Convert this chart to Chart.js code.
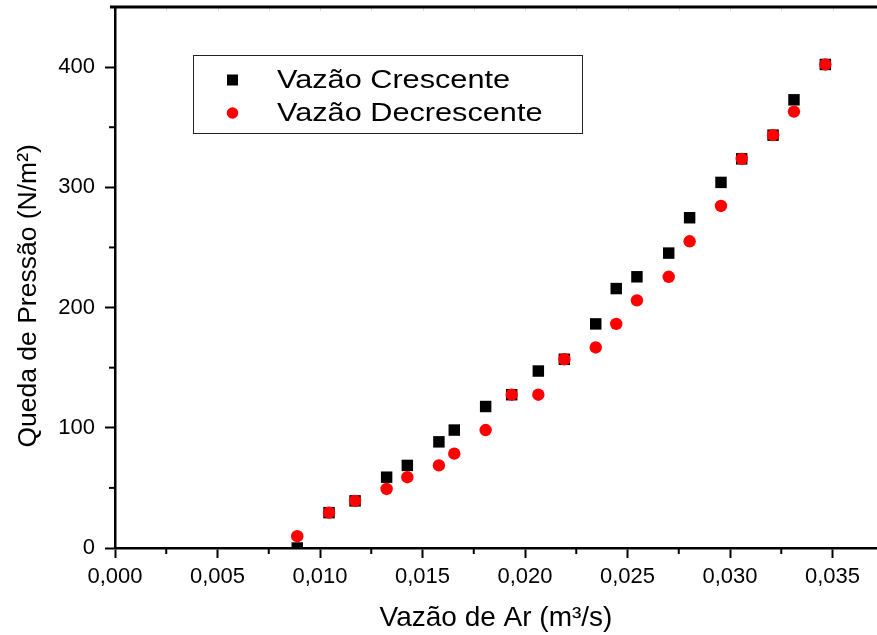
<!DOCTYPE html>
<html>
<head>
<meta charset="utf-8">
<script src="https://cdn.jsdelivr.net/npm/chart.js@4/dist/chart.umd.min.js"></script>
<style>
  html, body { margin: 0; padding: 0; background: #fff; }
  #chart { display: block; }
</style>
</head>
<body>
<canvas id="chart" width="877" height="635"></canvas>
<script>
// vazão de ar (m3/s) – mesmas posições para as duas séries
const flowRate = [0.00889, 0.01044, 0.01171, 0.01325, 0.01426, 0.01580, 0.01655, 0.01808, 0.01935, 0.02065, 0.02192,
                  0.02345, 0.02445, 0.02546, 0.02701, 0.02803, 0.02956, 0.03057, 0.03210, 0.03312, 0.03465];
const dropRising  = [0, 29.4, 39.2, 58.9, 68.7, 88.3, 98.1, 117.7, 127.5, 147.2, 157.0,
                     186.4, 215.8, 225.6, 245.3, 274.7, 304.1, 323.7, 343.4, 372.8, 402.2];
const dropFalling = [9.8, 29.4, 39.2, 49.1, 58.9, 68.7, 78.5, 98.1, 127.5, 127.5, 157.0,
                     166.8, 186.4, 206.0, 225.6, 255.1, 284.5, 323.7, 343.4, 363.0, 402.2];
const seriesNames = ['Vazão Crescente', 'Vazão Decrescente'];
const xTitle = 'Vazão de Ar (m³/s)';
const yTitle = 'Queda de Pressão (N/m²)';

const FONT = "'Liberation Sans', Arial, sans-serif";

const toPoints = ys => ys.map((y, i) => ({ x: flowRate[i], y }));

// sem margens extras das escalas
const noPad = s => { s.paddingTop = 0; s.paddingBottom = 0; s.paddingLeft = 0; s.paddingRight = 0; };

// ticks menores, linha superior e legenda
const framePlugin = {
  id: 'frame',
  afterDraw(chart) {
    const { ctx, chartArea: a, scales } = chart;
    ctx.save();
    ctx.strokeStyle = '#000';
    ctx.lineWidth = 2;
    // minor ticks x
    const xs = scales.x;
    for (let v = 0.0025; v < xs.max; v += 0.005) {
      const px = xs.getPixelForValue(v);
      ctx.beginPath(); ctx.moveTo(px, a.bottom); ctx.lineTo(px, a.bottom + 6); ctx.stroke();
    }
    // minor ticks y
    const ys = scales.y;
    for (let v = 50; v < ys.max; v += 100) {
      const py = ys.getPixelForValue(v);
      ctx.beginPath(); ctx.moveTo(a.left, py); ctx.lineTo(a.left - 6, py); ctx.stroke();
    }
    // faint ticks on the top line
    ctx.strokeStyle = '#d8d8d8';
    ctx.lineWidth = 1;
    for (let v = 0.0025; v < xs.max; v += 0.0025) {
      const px = Math.round(xs.getPixelForValue(v)) + 0.5;
      ctx.beginPath(); ctx.moveTo(px, a.top); ctx.lineTo(px, a.top + 4); ctx.stroke();
    }
    // top line
    ctx.strokeStyle = '#000';
    ctx.lineWidth = 3;
    ctx.beginPath(); ctx.moveTo(a.left - 5, a.top); ctx.lineTo(a.right, a.top); ctx.stroke();

    // legend
    const lx = 193, ly = 55, lw = 389, lh = 78;
    ctx.lineWidth = 1;
    ctx.strokeStyle = '#222';
    ctx.strokeRect(lx + 0.5, ly + 0.5, lw, lh);
    const rows = [ly + 25, ly + 58];
    ctx.fillStyle = '#000';
    ctx.fillRect(lx + 34, rows[0] - 5.5, 11, 11);
    ctx.fillStyle = '#ff0000';
    ctx.beginPath(); ctx.arc(lx + 39.5, rows[1], 5.8, 0, Math.PI * 2); ctx.fill();
    ctx.fillStyle = '#000';
    ctx.font = '26px ' + FONT;
    ctx.textBaseline = 'middle';
    rows.forEach((ry, i) => {
      ctx.save();
      ctx.translate(lx + 84, ry + 1);
      ctx.scale(1.18, 1);
      ctx.fillText(seriesNames[i], 0, 0);
      ctx.restore();
    });
    ctx.restore();
  }
};

new Chart(document.getElementById('chart'), {
  type: 'scatter',
  data: {
    datasets: [
      {
        label: seriesNames[1],
        data: toPoints(dropFalling),
        pointStyle: 'circle',
        pointRadius: 6.2,
        pointBorderWidth: 0,
        backgroundColor: '#ff0000',
        borderColor: '#ff0000',
        clip: { left: 10, right: 10, top: 10, bottom: 0 }
      },
      {
        label: seriesNames[0],
        data: toPoints(dropRising),
        pointStyle: 'rect',
        pointRadius: 8.1,
        pointBorderWidth: 0,
        backgroundColor: '#000',
        borderColor: '#000',
        clip: { left: 10, right: 10, top: 10, bottom: 0 }
      }
    ]
  },
  options: {
    responsive: false,
    animation: false,
    devicePixelRatio: 1,
    layout: { autoPadding: false, padding: { top: 7, right: 0, left: 0, bottom: 0 } },
    plugins: {
      legend: { display: false },
      tooltip: { enabled: false }
    },
    scales: {
      x: {
        type: 'linear',
        min: 0,
        max: 0.03717,
        afterFit: s => { s.height = 87; noPad(s); },
        border: { display: true, color: '#000', width: 2.5 },
        grid: { drawOnChartArea: false, drawTicks: true, tickLength: 10, tickWidth: 2, tickColor: '#000' },
        ticks: {
          stepSize: 0.005,
          includeBounds: false,
          maxRotation: 0,
          color: '#000',
          padding: 6,
          font: { family: FONT, size: 22 },
          callback: v => v.toFixed(3).replace('.', ',')
        },
        title: {
          display: true,
          text: xTitle,
          color: '#000',
          font: { family: FONT, size: 28 },
          padding: { top: 0, bottom: 0 }
        }
      },
      y: {
        min: 0,
        max: 450,
        afterFit: s => { s.width = 115; noPad(s); },
        border: { display: true, color: '#000', width: 2.5 },
        grid: { drawOnChartArea: false, drawTicks: true, tickLength: 10, tickWidth: 2, tickColor: '#000' },
        ticks: {
          stepSize: 100,
          includeBounds: false,
          color: '#000',
          padding: 10,
          font: { family: FONT, size: 22 }
        },
        title: {
          display: true,
          // espaços finais deslocam o título para baixo como no original
          text: yTitle + '\u00a0\u00a0\u00a0\u00a0\u00a0',
          color: '#000',
          font: { family: FONT, size: 26.5 },
          padding: { top: 13, bottom: 0 }
        }
      }
    }
  },
  plugins: [framePlugin]
});
</script>
</body>
</html>
